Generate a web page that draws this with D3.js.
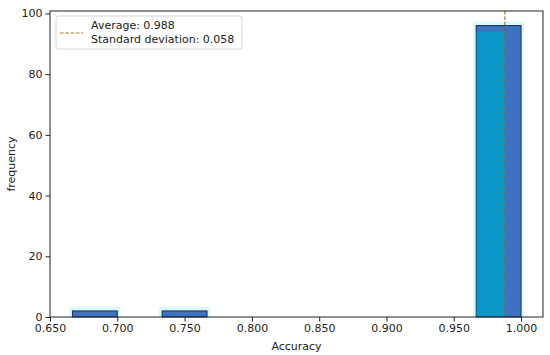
<!DOCTYPE html>
<html>
<head>
<meta charset="utf-8">
<script src="https://cdn.jsdelivr.net/npm/d3@7"></script>
<style>
  body { margin: 0; background: #fff; }
  text { font-family: "DejaVu Sans", sans-serif; fill: #222; }
</style>
</head>
<body>
<script>
  // histogram bins: 10 equal bins from min 2/3 to max 1.0
  const binStart = 2 / 3;
  const binEnd = 1.0;
  const binCounts = [2, 0, 2, 0, 0, 0, 0, 0, 0, 96];
  const meanValue = 0.988;
  const stdValue = 0.058;
  const xTicks = [0.65, 0.70, 0.75, 0.80, 0.85, 0.90, 0.95, 1.00];
  const yTicks = [0, 20, 40, 60, 80, 100];

  const width = 550;
  const height = 355;
  const margin = { top: 11, right: 7, bottom: 38, left: 50 };
  const innerWidth = width - margin.left - margin.right;
  const innerHeight = height - margin.top - margin.bottom;

  const binWidth = (binEnd - binStart) / binCounts.length;
  const bins = binCounts.map((c, i) => ({
    x0: binStart + i * binWidth,
    x1: binStart + (i + 1) * binWidth,
    count: c,
  })).filter((b) => b.count > 0);

  const xScale = d3.scaleLinear().domain([0.65, 1.0163]).range([0, innerWidth]);
  const yScale = d3.scaleLinear().domain([0, 100.8]).range([innerHeight, 0]);

  const svg = d3.select('body').append('svg')
    .attr('width', width)
    .attr('height', height);

  const g = svg.append('g')
    .attr('transform', `translate(${margin.left},${margin.top})`);

  // faint halo behind the bars
  g.append('g').selectAll('rect')
    .data(bins)
    .join('rect')
    .attr('x', (d) => xScale(d.x0) - 3)
    .attr('y', (d) => yScale(d.count) - 4)
    .attr('width', (d) => xScale(d.x1) - xScale(d.x0) + 6)
    .attr('height', (d) => yScale(0) - yScale(d.count) + 4)
    .attr('fill', '#d9fbfb');

  g.append('g').selectAll('rect')
    .data(bins)
    .join('rect')
    .attr('x', (d) => xScale(d.x0))
    .attr('y', (d) => yScale(d.count))
    .attr('width', (d) => xScale(d.x1) - xScale(d.x0))
    .attr('height', (d) => yScale(0) - yScale(d.count))
    .attr('fill', '#3d72c2')
    .attr('stroke', '#1c2a55')
    .attr('stroke-width', 1);

  // cyan tint on the tall bar up to the mean
  const tall = bins[bins.length - 1];
  g.append('rect')
    .attr('x', xScale(tall.x0) + 0.5)
    .attr('y', yScale(tall.count - 2))
    .attr('width', xScale(meanValue) - xScale(tall.x0))
    .attr('height', yScale(0) - yScale(tall.count - 2) - 0.5)
    .attr('fill', '#0b98c9');

  // mean line
  g.append('line')
    .attr('x1', xScale(meanValue))
    .attr('x2', xScale(meanValue))
    .attr('y1', 0)
    .attr('y2', innerHeight)
    .attr('stroke', '#7f6a24')
    .attr('stroke-width', 1)
    .attr('stroke-dasharray', '3.7,1.6');

  // axes
  const xAxis = g.append('g')
    .attr('transform', `translate(0,${innerHeight})`)
    .call(d3.axisBottom(xScale).tickValues(xTicks).tickFormat(d3.format('.3f')).tickSize(4.5).tickPadding(3));
  const yAxis = g.append('g')
    .call(d3.axisLeft(yScale).tickValues(yTicks).tickSize(4.5).tickPadding(3));
  [xAxis, yAxis].forEach((a) => {
    a.select('.domain').remove();
    a.selectAll('text').attr('font-size', 11).attr('fill', '#222').attr('font-family', 'DejaVu Sans');
    a.selectAll('line').attr('stroke', '#222');
  });

  // frame
  g.append('rect')
    .attr('width', innerWidth)
    .attr('height', innerHeight)
    .attr('fill', 'none')
    .attr('stroke', '#222')
    .attr('stroke-width', 1);

  // axis titles
  svg.append('text')
    .attr('x', margin.left + innerWidth / 2)
    .attr('y', 350)
    .attr('text-anchor', 'middle')
    .attr('font-size', 11)
    .text('Accuracy');
  svg.append('text')
    .attr('transform', `translate(15,${margin.top + innerHeight / 2}) rotate(-90)`)
    .attr('text-anchor', 'middle')
    .attr('font-size', 11)
    .text('frequency');

  // legend
  const legend = svg.append('g').attr('transform', 'translate(56,16)');
  legend.append('rect')
    .attr('width', 186)
    .attr('height', 33)
    .attr('rx', 2.5)
    .attr('fill', '#fff')
    .attr('fill-opacity', 0.85)
    .attr('stroke', '#d6d6d6');
  legend.append('line')
    .attr('x1', 4).attr('x2', 27)
    .attr('y1', 17).attr('y2', 17)
    .attr('stroke', '#a67d33')
    .attr('stroke-width', 1)
    .attr('stroke-dasharray', '3.7,1.6');
  const legendText = legend.append('text')
    .attr('font-size', 11);
  legendText.append('tspan').attr('x', 35).attr('y', 13)
    .text(`Average: ${d3.format('.3f')(meanValue)}`);
  legendText.append('tspan').attr('x', 35).attr('y', 27)
    .text(`Standard deviation: ${d3.format('.3f')(stdValue)}`);
</script>
</body>
</html>
